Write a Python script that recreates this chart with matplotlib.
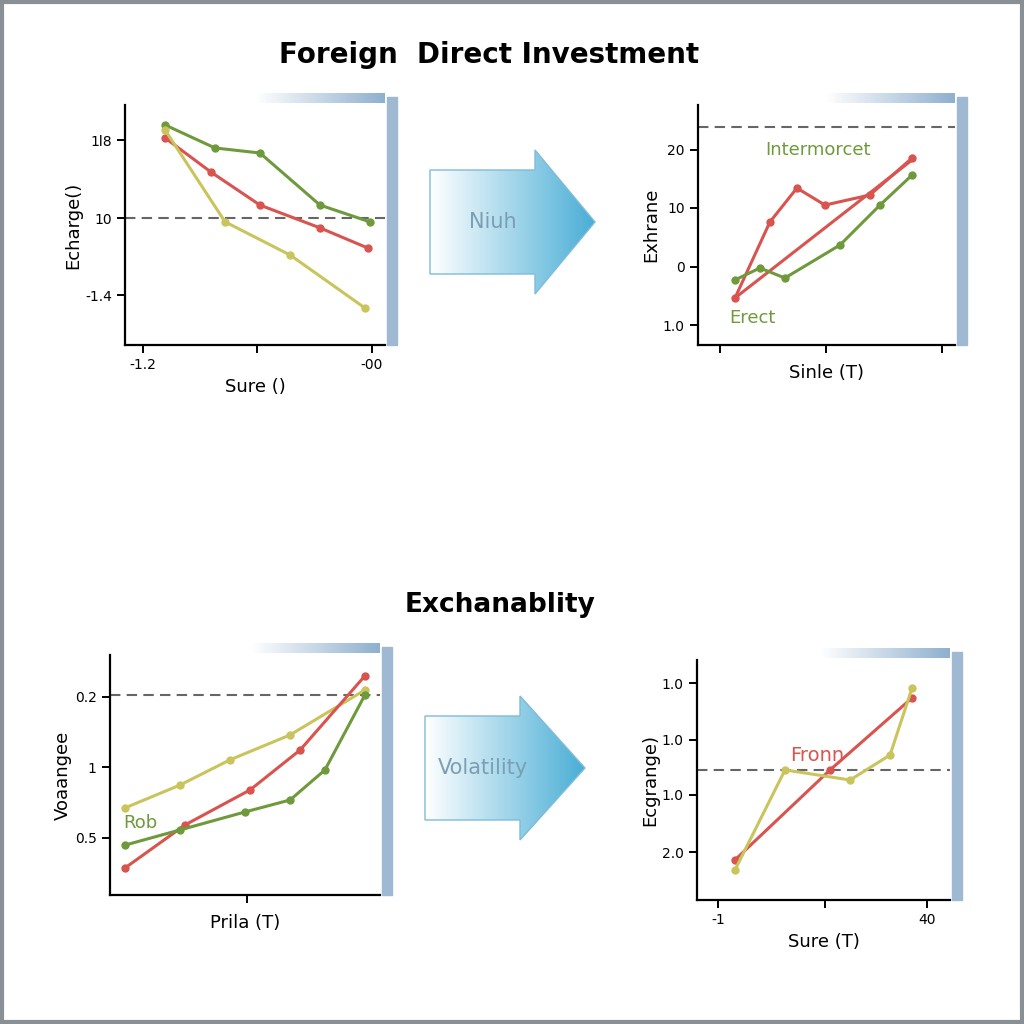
import numpy as np
import matplotlib.pyplot as plt
from matplotlib.patches import Polygon, Rectangle

GREEN = "#6f9a3c"; RED = "#d9534f"; YEL = "#c9c45c"

# top-left
tl_gx = [1.54, 3.46, 5.19, 7.5, 9.42]; tl_gy = [9.17, 8.21, 8.0, 5.83, 5.13]
tl_rx = [1.54, 3.3, 5.19, 7.5, 9.34]; tl_ry = [8.63, 7.21, 5.83, 4.88, 4.04]
tl_yx = [1.54, 3.85, 6.35, 9.23]; tl_yy = [8.96, 5.13, 3.75, 1.54]
tl_yt = [8.54, 5.29, 2.08]; tl_ytl = ["1l8", "10", "-1.4"]
tl_xt = [0.69, 5.08, 9.5]; tl_xtl = ["-1.2", "", "-00"]
# top-right
tr_rx = [1.44, 2.8, 3.85, 4.94, 6.69, 8.33]; tr_ry = [1.96, 5.13, 6.54, 5.83, 6.25, 7.79]
tr_r2x = [1.44, 8.33]; tr_r2y = [1.96, 7.71]
tr_gx = [1.44, 2.41, 3.38, 5.53, 7.08, 8.33]; tr_gy = [2.71, 3.21, 2.79, 4.17, 5.83, 7.08]
tr_yt = [8.13, 5.71, 3.25, 0.83]; tr_ytl = ["20", "10", "0", "1.0"]
tr_xt = [0.86, 4.98, 9.49]
# bottom-left
bl_yx = [0.56, 2.59, 4.44, 6.67, 9.44]; bl_yy = [3.63, 4.58, 5.63, 6.67, 8.54]
bl_rx = [0.56, 2.78, 5.19, 7.04, 9.44]; bl_ry = [1.13, 2.92, 4.38, 6.04, 9.13]
bl_gx = [0.56, 2.59, 5.0, 6.67, 7.96, 9.44]; bl_gy = [2.08, 2.71, 3.46, 3.96, 5.21, 8.33]
bl_yt = [8.25, 5.33, 2.38]; bl_ytl = ["0.2", "1", "0.5"]
# bottom-right
br_rx = [1.5, 5.26, 8.5]; br_ry = [1.67, 5.42, 8.42]
br_yx = [1.5, 3.48, 6.05, 7.63, 8.5]; br_yy = [1.25, 5.42, 5.0, 6.04, 8.83]
br_yt = [9.04, 6.67, 4.38, 2.0]; br_ytl = ["1.0", "1.0", "1.0", "2.0"]
br_xt = [0.83, 5.06, 9.09]; br_xtl = ["-1", "", "40"]

fig = plt.figure(figsize=(10.24, 10.24), dpi=100)
fig.patch.set_facecolor("white")
fig.patches.append(Rectangle((0.002, 0.002), 0.996, 0.996, transform=fig.transFigure,
                             fill=False, ec="#8a8f96", lw=3))

def fx(px): return px / 1024
def fy(py): return 1 - py / 1024

def panel(x0, y0, x1, y1, dash, yt, ytl, xt, xtl, xlabel, ylabel):
    ax = fig.add_axes([fx(x0), fy(y1), (x1 - x0) / 1024, (y1 - y0) / 1024])
    ax.set_xlim(0, 10); ax.set_ylim(0, 10)
    for s in ["top", "right"]:
        ax.spines[s].set_visible(False)
    for s in ["left", "bottom"]:
        ax.spines[s].set_linewidth(1.6)
    ax.axhline(dash, color="#666666", ls=(0, (5, 3)), lw=1.5)
    ax.set_yticks(yt); ax.set_yticklabels(ytl, fontsize=10)
    ax.set_xticks(xt); ax.set_xticklabels(xtl, fontsize=10)
    ax.tick_params(length=6, width=1.4)
    ax.set_xlabel(xlabel, fontsize=13, labelpad=4)
    ax.set_ylabel(ylabel, fontsize=13, labelpad=2)
    # decorative blue frame
    grad = np.linspace(0, 1, 100).reshape(1, -1)
    gx = fig.add_axes([fx(x1 - 130), fy(y0 - 2), 130 / 1024, 10 / 1024])
    gx.imshow(grad, cmap=plt.matplotlib.colors.LinearSegmentedColormap.from_list("g", ["white", "#8fb0cf"]), aspect="auto")
    gx.axis("off")
    fig.patches.append(Rectangle((fx(x1 + 2), fy(y1)), 10 / 1024, (y1 - y0 + 8) / 1024,
                                 transform=fig.transFigure, color="#9fb9d3", zorder=0))
    return ax

def line(ax, x, y, c):
    ax.plot(x, y, color=c, lw=2.2, marker="o", ms=5, clip_on=False)

ax = panel(125, 105, 385, 345, 5.29, tl_yt, tl_ytl, tl_xt, tl_xtl, "Sure ()", "Echarge()")
line(ax, tl_gx, tl_gy, GREEN); line(ax, tl_rx, tl_ry, RED); line(ax, tl_yx, tl_yy, YEL)

ax = panel(698, 105, 955, 345, 9.08, tr_yt, tr_ytl, tr_xt, ["", "", ""], "Sinle (T)", "Exhrane")
line(ax, tr_rx, tr_ry, RED); ax.plot(tr_r2x, tr_r2y, color=RED, lw=2.2); line(ax, tr_gx, tr_gy, GREEN)
ax.text(2.6, 7.9, "Intermorcet", color=GREEN, fontsize=13)
ax.text(1.2, 0.9, "Erect", color=GREEN, fontsize=13)

ax = panel(110, 655, 380, 895, 8.33, bl_yt, bl_ytl, [5.07], [""], "Prila (T)", "Voaangee")
line(ax, bl_yx, bl_yy, YEL); line(ax, bl_rx, bl_ry, RED); line(ax, bl_gx, bl_gy, GREEN)
ax.text(0.5, 2.8, "Rob", color=GREEN, fontsize=13)

ax = panel(697, 660, 950, 900, 5.42, br_yt, br_ytl, br_xt, br_xtl, "Sure (T)", "Ecgrange)")
line(ax, br_rx, br_ry, RED); line(ax, br_yx, br_yy, YEL)
ax.text(3.7, 5.8, "Fronn", color=RED, fontsize=14)

def arrow(x0, x1, xh, cy, hb, hh, label):
    aax = fig.add_axes([0, 0, 1, 1]); aax.set_xlim(0, 1024); aax.set_ylim(1024, 0); aax.axis("off")
    pts = [(x0, cy - hb), (xh, cy - hb), (xh, cy - hh), (x1, cy), (xh, cy + hh), (xh, cy + hb), (x0, cy + hb)]
    poly = Polygon(pts, closed=True, fc="none", ec="#7fbcd8", lw=1)
    aax.add_patch(poly)
    cmap = plt.matplotlib.colors.LinearSegmentedColormap.from_list("a", ["#ffffff", "#4aaed6"])
    im = aax.imshow(np.linspace(0, 1, 200).reshape(1, -1), cmap=cmap, aspect="auto",
                    extent=[x0, x1, cy + hh, cy - hh])
    im.set_clip_path(poly)
    aax.text((x0 + xh) / 2 + 10, cy, label, ha="center", va="center", fontsize=15, color="#7a9fb5")

arrow(430, 595, 535, 222, 52, 72, "Niuh")
arrow(425, 585, 520, 768, 52, 72, "Volatility")

fig.text(0.478, fy(55), "Foreign  Direct Investment", ha="center", va="center", fontsize=20, fontweight="bold")
fig.text(0.488, fy(605), "Exchanablity", ha="center", va="center", fontsize=19, fontweight="bold")

fig.savefig("out.png", dpi=100)
